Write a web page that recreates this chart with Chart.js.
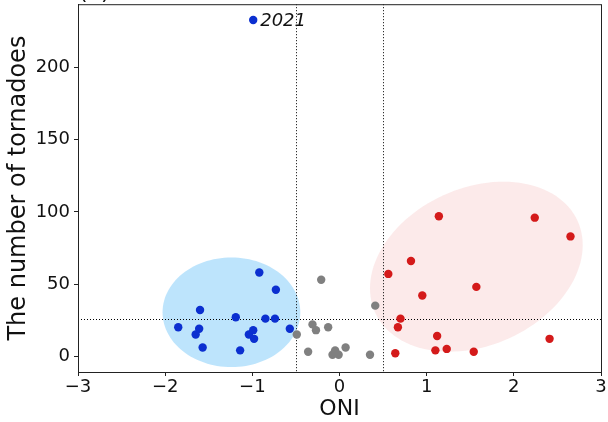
<!DOCTYPE html>
<html>
    <head>
        <title>ONI vs tornadoes</title>
        <script src="https://cdn.jsdelivr.net/npm/chart.js@4"></script>
        <style>
            body { margin: 0; background: #fff; }
            #wrap { width: 608px; height: 422px; }
        </style>
        <script type="text/javascript">
            // La Nina years (blue), neutral years (gray), El Nino years (red)
            const laNinaOni   = [-0.99, -0.92, -0.73, -1.60, -1.19, -0.85, -0.74, -1.85, -1.61, -1.65, -0.57, -0.99, -1.04, -0.98, -1.57, -1.14];
            const laNinaCount = [233, 58, 46, 32, 27, 26, 26, 20, 19, 15, 19, 18, 15, 12, 6, 4];
            const neutralOni   = [-0.21, 0.41, -0.31, -0.27, -0.13, -0.49, -0.36, 0.07, -0.05, -0.08, -0.01, 0.35];
            const neutralCount = [53, 35, 22, 18, 20, 15, 3, 6, 4, 1, 1, 1];
            const elNinoOni   = [1.14, 2.24, 2.65, 0.82, 0.56, 1.57, 0.95, 0.70, 0.67, 1.12, 2.41, 0.64, 1.10, 1.23, 1.54];
            const elNinoCount = [97, 96, 83, 66, 57, 48, 42, 26, 20, 14, 12, 2, 4, 5, 3];
            const labelIndex = 0;      // the 2021 point in laNinaOni
            const labelText = "2021";
            const oniThresholds = [-0.5, 0.5];
            const meanCount = 25.6;
            const xTicks = [-3, -2, -1, 0, 1, 2, 3];
            const yTicks = [0, 50, 100, 150, 200];

            // shaded clusters: centre, and two conjugate half-axes (data units)
            const clusters = [
                { cx: -1.24, cy: 30.4, ux: 0.79, uy: 0, vx: 0, vy: 38, color: 'rgba(135,206,250,0.55)' },
                { cx: 1.57, cy: 62, ux: 1.22, uy: 15, vx: 0, vy: 57, color: 'rgba(245,170,170,0.25)' }
            ];

            function toPoints(xs, ys) {
                let pts = [];
                for (let i = 0; i < xs.length; i++) {
                    pts.push({ x: xs[i], y: ys[i] });
                }
                return pts;
            }

            const overlay = {
                id: 'overlay',
                beforeDatasetsDraw(chart) {
                    const ctx = chart.ctx;
                    const a = chart.chartArea;
                    const xs = chart.scales.x, ys = chart.scales.y;
                    ctx.save();
                    ctx.beginPath();
                    ctx.rect(a.left, a.top, a.right - a.left, a.bottom - a.top);
                    ctx.clip();
                    clusters.forEach(function (e) {
                        ctx.beginPath();
                        for (let i = 0; i <= 120; i++) {
                            const t = i / 120 * 2 * Math.PI;
                            const dx = e.cx + e.ux * Math.cos(t) + e.vx * Math.sin(t);
                            const dy = e.cy + e.uy * Math.cos(t) + e.vy * Math.sin(t);
                            const px = xs.getPixelForValue(dx), py = ys.getPixelForValue(dy);
                            if (i === 0) ctx.moveTo(px, py); else ctx.lineTo(px, py);
                        }
                        ctx.closePath();
                        ctx.fillStyle = e.color;
                        ctx.fill();
                    });
                    ctx.strokeStyle = '#000';
                    ctx.lineWidth = 1;
                    ctx.setLineDash([1, 2]);
                    oniThresholds.forEach(function (v) {
                        const px = Math.round(xs.getPixelForValue(v)) + 0.5;
                        ctx.beginPath();
                        ctx.moveTo(px, a.top);
                        ctx.lineTo(px, a.bottom);
                        ctx.stroke();
                    });
                    const py = Math.round(ys.getPixelForValue(meanCount)) + 0.5;
                    ctx.beginPath();
                    ctx.moveTo(a.left, py);
                    ctx.lineTo(a.right, py);
                    ctx.stroke();
                    ctx.restore();
                },
                afterDatasetsDraw(chart) {
                    const ctx = chart.ctx;
                    const a = chart.chartArea;
                    ctx.save();
                    // frame
                    ctx.strokeStyle = '#222';
                    ctx.lineWidth = 1;
                    ctx.strokeRect(a.left + 0.5, a.top + 0.5, a.right - a.left, a.bottom - a.top);
                    // year label
                    const pt = chart.getDatasetMeta(0).data[labelIndex];
                    ctx.fillStyle = '#111';
                    ctx.font = 'italic 18px "DejaVu Sans"';
                    ctx.textBaseline = 'middle';
                    ctx.fillText(labelText, pt.x + 7, pt.y + 1);
                    // panel letter, mostly cut off above the figure
                    ctx.font = '22px "DejaVu Sans"';
                    ctx.textBaseline = 'alphabetic';
                    ctx.fillText('(a)', a.left + 1, -1);
                    ctx.restore();
                }
            };

            function minus(v) {
                return String(v).replace('-', '\u2212');
            }

            function init() {
                const ctx = document.getElementById('myChart').getContext('2d');
                new Chart(ctx, {
                    type: 'scatter',
                    data: {
                        datasets: [{
                            data: toPoints(laNinaOni, laNinaCount),
                            backgroundColor: '#0b2fd0',
                            borderWidth: 0,
                            pointRadius: 4.2
                        }, {
                            data: toPoints(neutralOni, neutralCount),
                            backgroundColor: '#808080',
                            borderWidth: 0,
                            pointRadius: 4.2
                        }, {
                            data: toPoints(elNinoOni, elNinoCount),
                            backgroundColor: '#d41a1a',
                            borderWidth: 0,
                            pointRadius: 4.2
                        }]
                    },
                    options: {
                        responsive: false,
                        animation: false,
                        layout: { padding: { top: 3, right: 7, left: 0, bottom: 0 } },
                        plugins: { legend: { display: false }, tooltip: { enabled: false } },
                        scales: {
                            x: {
                                type: 'linear',
                                min: -3, max: 3,
                                afterBuildTicks: function (s) { s.ticks = xTicks.map(v => ({ value: v })); },
                                afterFit: function (s) { s.height = 50; s.paddingLeft = 0; s.paddingRight = 0; },
                                grid: { drawOnChartArea: false, drawTicks: true, tickLength: 4, color: '#222' },
                                border: { display: true, color: '#222' },
                                ticks: {
                                    color: '#111', padding: 1,
                                    font: { family: 'DejaVu Sans', size: 18 },
                                    maxRotation: 0,
                                    callback: function (v) { return minus(v); }
                                },
                                title: {
                                    display: true, text: 'ONI', color: '#111',
                                    font: { family: 'DejaVu Sans', size: 22 },
                                    padding: { top: 0, bottom: 0 }
                                }
                            },
                            y: {
                                type: 'linear',
                                min: -11, max: 244,
                                afterBuildTicks: function (s) { s.ticks = yTicks.map(v => ({ value: v })); },
                                afterFit: function (s) { s.width = 78; s.paddingTop = 0; s.paddingBottom = 0; },
                                grid: { drawOnChartArea: false, drawTicks: true, tickLength: 4, color: '#222' },
                                border: { display: true, color: '#222' },
                                ticks: {
                                    color: '#111', padding: 4,
                                    font: { family: 'DejaVu Sans', size: 18 }
                                },
                                title: {
                                    display: true, text: 'The number of tornadoes', color: '#111',
                                    font: { family: 'DejaVu Sans', size: 24 },
                                    padding: { top: 4, bottom: 0 }
                                }
                            }
                        }
                    },
                    plugins: [overlay]
                });
            }
            document.addEventListener('DOMContentLoaded', init);
        </script>
    </head>
    <body>
        <div id="wrap">
            <canvas id="myChart" width="608" height="422"></canvas>
        </div>
    </body>
</html>
